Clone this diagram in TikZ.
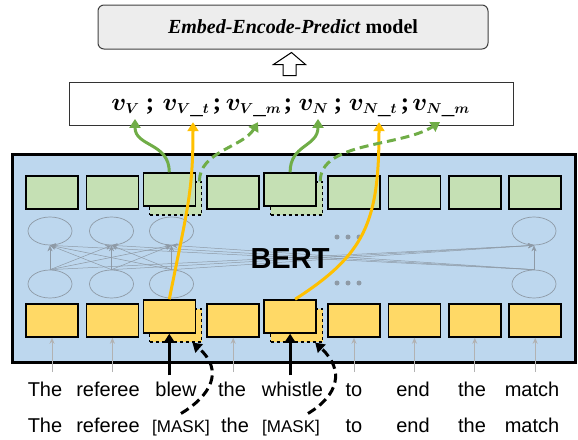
\documentclass[tikz,border=0pt]{standalone}
\usepackage{fontspec}
\usepackage{bm}
\setmainfont{Liberation Serif}
\newfontfamily\arialfont{Liberation Sans}
\DeclareMathSizes{25}{25}{14}{11}
\usetikzlibrary{arrows.meta,shapes.geometric,calc,positioning}

\definecolor{bertblue}{HTML}{BDD7EE}
\definecolor{embgreen}{HTML}{C5E0B4}
\definecolor{embyellow}{HTML}{FFD966}
\definecolor{arrgreen}{HTML}{70AD47}
\definecolor{arryellow}{HTML}{FFC000}
\definecolor{topgray}{HTML}{EDEDED}
\definecolor{netgray}{HTML}{8E9AA6}

\tikzset{
  tok/.style={draw=black, line width=1.5pt, minimum width=52pt, minimum height=33pt, inner sep=0pt},
  outbox/.style={tok, fill=embgreen},
  inbox/.style={tok, fill=embyellow},
  shadowbox/.style={draw=black, dashed, line width=1.2pt, minimum width=52pt, minimum height=33pt, inner sep=0pt},
  neuron/.style={ellipse, draw=netgray, line width=0.7pt, minimum width=44pt, minimum height=28pt, inner sep=0pt},
  link/.style={draw=netgray, line width=0.5pt, -{Stealth[length=6pt,width=5pt]}},
  word/.style={font=\arialfont\fontsize{20}{24}\selectfont, anchor=base, inner xsep=1pt, inner ysep=6pt},
  maskword/.style={font=\arialfont\fontsize{17}{20}\selectfont, anchor=base, inner xsep=1pt, inner ysep=6pt},
  vecsym/.style={font=\fontsize{25}{30}\selectfont, anchor=base, inner sep=1pt},
  greenarr/.style={draw=arrgreen, line width=3pt, -{Triangle[length=9pt,width=11pt]}},
  yellowarr/.style={draw=arryellow, line width=3pt, -{Triangle[length=9pt,width=11pt]}},
  blackarr/.style={draw=black, line width=3pt, -{Triangle[length=9pt,width=11pt]}},
  gapdash/.style={dash pattern=on 9pt off 5pt},
  inputarr/.style={draw=gray!60, line width=1pt, -{Stealth[length=6pt,width=5pt]}},
}

\begin{document}
\begin{tikzpicture}[x=1pt,y=-1pt]
\useasboundingbox (0,0) rectangle (578,439);

% model and vector
\node[draw=black!75, fill=topgray, rounded corners=6pt, line width=1pt, minimum width=390pt, minimum height=44pt] (model) at (293,27)
  {\fontsize{20}{24}\selectfont\textbf{\textit{Embed-Encode-Predict}} \textbf{model}};
\node[draw=black!80, line width=1pt, minimum width=444pt, minimum height=43pt, inner sep=0pt] (vecbox) at (291,103.5) {};
\draw[line width=1pt, fill=white] ($(vecbox.north)+(-8,-6)$) -- ++(0,-11) -- ++(-9.5,0)
  -- ($(model.south)+(-1.5,3)$) -- ($(vecbox.north)+(14.5,-17)$) -- ++(-9.5,0) -- ++(0,11) -- cycle;

\node[vecsym] (vV) at (125.5,110) {$\bm{v}_{\bm{V}}$};
\node[vecsym] (vVt) at (186,110) {$\bm{v}_{\bm{V\_t}}$};
\node[vecsym] (vVm) at (253.5,110) {$\bm{v}_{\bm{V\_m}}$};
\node[vecsym] (vN) at (313.5,110) {$\bm{v}_{\bm{N}}$};
\node[vecsym] (vNt) at (373,110) {$\bm{v}_{\bm{N\_t}}$};
\node[vecsym] (vNm) at (441,110) {$\bm{v}_{\bm{N\_m}}$};
\foreach \x [count=\n] in {150,217,288,338,405}
  \node[vecsym] (semi\n) at (\x,110) {\textbf{;}};

\coordinate (tV) at ([xshift=9.5pt,yshift=-4pt]vV.south);
\coordinate (tVt) at ([xshift=7pt,yshift=-4pt]vVt.south);
\coordinate (tVm) at ([xshift=4.5pt,yshift=-4pt]vVm.south);
\coordinate (tN) at ([xshift=4.5pt,yshift=-4pt]vN.south);
\coordinate (tNt) at ([xshift=6pt,yshift=-4pt]vNt.south);
\coordinate (tNm) at ([xshift=-1pt,yshift=-4pt]vNm.south);

% BERT frame
\node[draw=black, line width=3pt, fill=bertblue, minimum width=563pt, minimum height=208pt, inner sep=0pt] (bert) at (293.5,258) {};

\foreach \c/\x in {1/50,2/111.5,3/171.5,9/534} {
  \node[neuron] (hi\c) at (\x,231) {};
  \node[neuron] (lo\c) at (\x,284) {};
}
\foreach \a in {1,2,3,9}
  \foreach \b in {1,2,3,9}
    \draw[link] (lo\a.north) -- (hi\b.south);
\foreach \x in {337,348,359} {
  \fill[netgray] (\x,237) circle (2.5pt);
  \fill[netgray] (\x,283) circle (2.5pt);
}
\node[font=\arialfont\bfseries\fontsize{29}{34}\selectfont, inner sep=0pt] (bertlabel) at (290,259) {BERT};

% token boxes
\foreach \i in {1,2,4,6,7,8,9} {
  \node[outbox] (g\i) at ({52+60.4*(\i-1)},192.5) {};
  \node[inbox] (y\i) at ({52+60.4*(\i-1)},320.5) {};
}
\foreach \i in {3,5} {
  \node[shadowbox, fill=embgreen] (gs\i) at ({52+60.4*(\i-1)+3},198.5) {};
  \node[outbox] (g\i) at ({52+60.4*(\i-1)-3.5},189.5) {};
  \node[shadowbox, fill=embyellow] (ys\i) at ({52+60.4*(\i-1)+3},325.5) {};
  \node[inbox] (y\i) at ({52+60.4*(\i-1)-3.5},316.5) {};
}

% sentences
\foreach \w/\x [count=\n] in {The/45,referee/108,blew/176,the/232,whistle/292.5,to/354,end/413,the/472,match/532}
  \node[word] (w\n) at (\x,396) {\w};
\foreach \n/\w/\x in {1/The/45,2/referee/108,4/the/235,6/to/354,7/end/413,8/the/472,9/match/532}
  \node[word] (m\n) at (\x,432) {\w};
\node[maskword] (m3) at (181,432) {[MASK]};
\node[maskword] (m5) at (291,432) {[MASK]};

% inputs
\foreach \i in {1,2,4,6,7,8,9} {
  \coordinate (in\i) at (y\i.south |- 0,372);
  \draw[inputarr] (in\i) -- (y\i.south);
}
\draw[blackarr] (y3.south |- w3.north) -- (y3.south);
\draw[blackarr] (y5.south |- w5.north) -- (y5.south);
\coordinate (d3) at (m3.north);
\coordinate (d5) at ([xshift=17pt]m5.north);
\draw[blackarr, gapdash] (d3) .. controls +(30,-18) and +(32,28) .. ([xshift=-10pt]ys3.south east);
\draw[blackarr, gapdash] (d5) .. controls +(30,-18) and +(30,28) .. ([xshift=-8pt]ys5.south east);

% outputs
\draw[yellowarr] (y3.north) .. controls +(18,-90) and +(0,70) .. (tVt);
\draw[yellowarr] ([xshift=5pt]y5.north) .. controls +(70,-45) and +(0,100) .. (tNt);
\draw[greenarr] (g3.north) .. controls +(0,-30) and +(0,28) .. (tV);
\draw[greenarr, gapdash] ([xshift=-3pt]gs3.north east) .. controls +(0,-30) and +(-15,25) .. (tVm);
\draw[greenarr] (g5.north) .. controls +(0,-28) and +(0,28) .. (tN);
\draw[greenarr, gapdash] ([xshift=-3pt]gs5.north east) .. controls +(0,-40) and +(-40,25) .. (tNm);
\end{tikzpicture}
\end{document}
